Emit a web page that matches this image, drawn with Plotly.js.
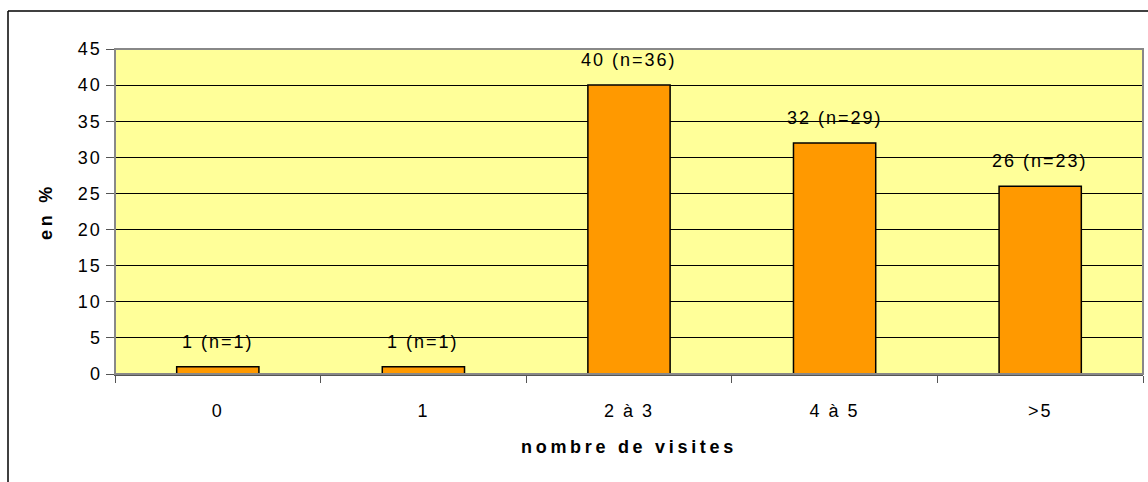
<!DOCTYPE html>
<html><head><meta charset="utf-8">
<script src="https://cdn.plot.ly/plotly-3.0.1.min.js"></script>
<style>html,body{margin:0;padding:0;background:#fff;}#chart{width:1148px;height:482px;}
#chart text{letter-spacing:2px;}
#chart .xtitle, #chart .ytitle{letter-spacing:3.7px;}
</style>
</head><body><div id="chart"></div>
<script>
const categories = ["0", "1", "2 à 3", "4 à 5", ">5"];
const percents = [1, 1, 40, 32, 26];
const counts = [1, 1, 36, 29, 23];
const labels = percents.map((p, i) => p + " (n=" + counts[i] + ")");

const W = 1148, H = 482;
const mL = 115, mR = 5, mT = 49, mB = 108;
const pw = W - mL - mR, ph = H - mT - mB;
function px(x) { return (x - mL) / pw; }
function py(y) { return (H - mB - y) / ph; }

const FONT = "Arial, Liberation Sans, sans-serif";
const annotations = categories.map((c, i) => ({
  x: c, y: percents[i], xref: "x", yref: "y", text: labels[i],
  showarrow: false, yanchor: "middle", yshift: 25,
  font: {family: FONT, size: 18, color: "#000"}
}));

const data = [{
  type: "bar", x: categories, y: percents,
  marker: {color: "#FF9900", line: {color: "#000", width: 1.5}},
  hoverinfo: "none"
}];

const layout = {
  width: W, height: H,
  margin: {l: mL, r: mR, t: mT, b: mB},
  paper_bgcolor: "#fff", plot_bgcolor: "#FFFF99",
  bargap: 0.6, showlegend: false,
  font: {family: FONT, size: 18, color: "#000"},
  xaxis: {
    type: "category", tickson: "boundaries", ticks: "outside", ticklen: 7, tickcolor: "#555",
    showline: true, linecolor: "#555", linewidth: 1.5, showgrid: false,
    ticklabelstandoff: 20,
    title: {text: "nombre de visites", font: {size: 18, weight: "bold"}, standoff: 20}
  },
  yaxis: {
    range: [0, 45], dtick: 5, ticks: "outside", ticklen: 8, tickcolor: "#555",
    showline: true, linecolor: "#555", linewidth: 1.5, zeroline: false,
    showgrid: true, gridcolor: "#000", gridwidth: 1,
    title: {text: "en %", font: {size: 18, weight: "bold"}, standoff: 24}
  },
  annotations: annotations,
  shapes: [
    {type: "rect", xref: "paper", yref: "paper", x0: px(115), x1: px(1143), y0: py(374), y1: py(49),
     line: {color: "#888", width: 2}, fillcolor: "rgba(0,0,0,0)", layer: "above"},
    {type: "line", xref: "paper", yref: "paper", x0: px(8), x1: px(1160), y0: py(11), y1: py(11), line: {color: "#000", width: 1.5}},
    {type: "line", xref: "paper", yref: "paper", x0: px(8), x1: px(8), y0: py(11), y1: py(490), line: {color: "#000", width: 1.5}}
  ]
};

Plotly.newPlot("chart", data, layout, {staticPlot: true, displayModeBar: false});
</script></body></html>
